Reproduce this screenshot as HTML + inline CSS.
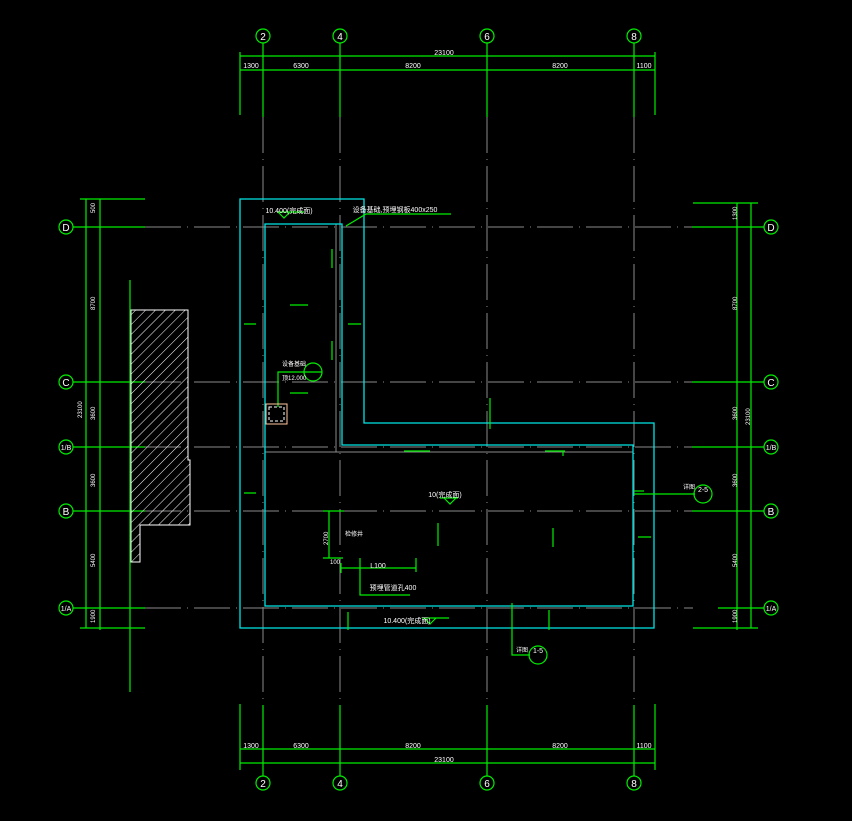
<!DOCTYPE html>
<html><head><meta charset="utf-8"><style>
html,body{margin:0;padding:0;background:#000;}
svg{display:block}
text{font-family:"Liberation Sans","Noto Sans CJK SC",sans-serif;fill:#fff;}
</style></head><body>
<svg width="852" height="821" viewBox="0 0 852 821" xmlns="http://www.w3.org/2000/svg">
<rect width="852" height="821" fill="#000"/>
<!-- grey axis lines -->
<g stroke="#8a8a8a" stroke-width="1" stroke-dasharray="36 6 1 6" fill="none">
<line x1="263" y1="117" x2="263" y2="705"/>
<line x1="340" y1="117" x2="340" y2="705"/>
<line x1="487" y1="117" x2="487" y2="705"/>
<line x1="634" y1="117" x2="634" y2="705"/>
<line x1="145" y1="227" x2="693" y2="227"/>
<line x1="145" y1="382" x2="693" y2="382"/>
<line x1="145" y1="447" x2="693" y2="447"/>
<line x1="145" y1="511" x2="693" y2="511"/>
<line x1="145" y1="608" x2="693" y2="608"/>
</g>
<g stroke="#8a8a8a" stroke-width="1">
<line x1="265" y1="452" x2="633" y2="452"/>
<line x1="336" y1="224" x2="336" y2="452"/>
</g>
<!-- cyan outlines -->
<g stroke="#00e5e5" stroke-width="1.3" fill="none">
<path d="M240 199 H364 V423 H654 V628 H240 Z"/>
<path d="M265 224 H342 V445 H633 V606 H265 Z"/>
</g>
<!-- green dimensions -->
<g stroke="#00ee00" stroke-width="1.2" fill="none">
<!-- top -->
<line x1="240" y1="56" x2="655" y2="56"/><line x1="240" y1="70" x2="655" y2="70"/>
<line x1="240" y1="52" x2="240" y2="115"/><line x1="655" y1="52" x2="655" y2="115"/>
<line x1="263" y1="43" x2="263" y2="117"/><line x1="340" y1="43" x2="340" y2="117"/>
<line x1="487" y1="43" x2="487" y2="117"/><line x1="634" y1="43" x2="634" y2="117"/>
<circle cx="263" cy="36" r="7"/><circle cx="340" cy="36" r="7"/><circle cx="487" cy="36" r="7"/><circle cx="634" cy="36" r="7"/>
<!-- bottom -->
<line x1="240" y1="749" x2="655" y2="749"/><line x1="240" y1="763" x2="655" y2="763"/>
<line x1="240" y1="704" x2="240" y2="770"/><line x1="655" y1="704" x2="655" y2="770"/>
<line x1="263" y1="705" x2="263" y2="776"/><line x1="340" y1="705" x2="340" y2="776"/>
<line x1="487" y1="705" x2="487" y2="776"/><line x1="634" y1="705" x2="634" y2="776"/>
<circle cx="263" cy="783" r="7"/><circle cx="340" cy="783" r="7"/><circle cx="487" cy="783" r="7"/><circle cx="634" cy="783" r="7"/>
<!-- left -->
<line x1="86" y1="199" x2="86" y2="628"/><line x1="100" y1="199" x2="100" y2="630"/>
<line x1="80" y1="199" x2="145" y2="199"/><line x1="80" y1="628" x2="145" y2="628"/>
<line x1="73" y1="227" x2="145" y2="227"/><line x1="73" y1="382" x2="145" y2="382"/>
<line x1="73" y1="447" x2="145" y2="447"/><line x1="73" y1="511" x2="145" y2="511"/>
<line x1="73" y1="608" x2="145" y2="608"/>
<circle cx="66" cy="227" r="7"/><circle cx="66" cy="382" r="7"/><circle cx="66" cy="447" r="7"/><circle cx="66" cy="511" r="7"/><circle cx="66" cy="608" r="7"/>
<line x1="130" y1="280" x2="130" y2="692"/>
<!-- right -->
<line x1="737" y1="203" x2="737" y2="630"/><line x1="751" y1="203" x2="751" y2="628"/>
<line x1="693" y1="203" x2="758" y2="203"/><line x1="693" y1="628" x2="758" y2="628"/>
<line x1="692" y1="227" x2="764" y2="227"/><line x1="692" y1="382" x2="764" y2="382"/>
<line x1="692" y1="447" x2="764" y2="447"/><line x1="692" y1="511" x2="764" y2="511"/>
<line x1="718" y1="608" x2="764" y2="608"/>
<circle cx="771" cy="227" r="7"/><circle cx="771" cy="382" r="7"/><circle cx="771" cy="447" r="7"/><circle cx="771" cy="511" r="7"/><circle cx="771" cy="608" r="7"/>
<!-- leaders -->
<path d="M346 226 L366 214 H451"/>
<path d="M278 407 V372 H322"/><circle cx="313" cy="372" r="9"/>
<path d="M634 494 H695"/><circle cx="703" cy="494" r="9"/><line x1="634" y1="491" x2="644" y2="491"/>
<path d="M512 603 V655 H530"/><circle cx="538" cy="655" r="9"/>
<path d="M329 511 V558 M323 511 H344 M323 558 H343"/>
<path d="M341 568 H416 M341 563 V573 M416 558 V572 M360 558 V595 H410"/>
<path d="M277 212 H304 M278 212 L284 218 L290 212"/>
<path d="M440 498 H458 M444 498 L450 504 L456 498"/>
<path d="M422 618 H449 M424 618 L430 624 L436 618"/>
<path d="M490 398 V429 M563 451 V456 M404 451 H430 M545 451 H565"/>
<path d="M244 324 H256 M348 324 H361 M244 493 H256 M638 537 H651 M290 305 H308 M290 393 H308"/>
<path d="M438 523 V546 M553 528 V547 M348 612 V630 M549 610 V630 M332 249 V268 M332 341 V360"/>
</g>
<rect x="266" y="404" width="21" height="20" fill="none" stroke="#ffc8a0" stroke-width="1"/>
<rect x="269" y="407" width="15" height="14" fill="none" stroke="#fff" stroke-width="1" stroke-dasharray="3 2"/>
<!-- hatched block -->
<defs><pattern id="h" width="7" height="7" patternUnits="userSpaceOnUse" patternTransform="rotate(45)"><line x1="0" y1="0" x2="0" y2="7" stroke="#fff" stroke-width="1"/></pattern></defs>
<path d="M131 310 H188 V460 H190 V525 H140 V562 H131 Z" fill="url(#h)" stroke="#fff" stroke-width="1"/>
<!-- circle labels -->
<g font-size="10" text-anchor="middle">
<text x="263" y="40">2</text><text x="340" y="40">4</text><text x="487" y="40">6</text><text x="634" y="40">8</text>
<text x="263" y="787">2</text><text x="340" y="787">4</text><text x="487" y="787">6</text><text x="634" y="787">8</text>
<text x="66" y="231">D</text><text x="66" y="386">C</text><text x="66" y="515">B</text>
<text x="771" y="231">D</text><text x="771" y="386">C</text><text x="771" y="515">B</text>
</g>
<g font-size="7" text-anchor="middle">
<text x="66" y="450">1/B</text><text x="66" y="611">1/A</text><text x="771" y="450">1/B</text><text x="771" y="611">1/A</text>
<text x="444" y="55">23100</text><text x="251" y="68">1300</text><text x="301" y="68">6300</text><text x="413" y="68">8200</text><text x="560" y="68">8200</text><text x="644" y="68">1100</text>
<text x="444" y="762">23100</text><text x="251" y="748">1300</text><text x="301" y="748">6300</text><text x="413" y="748">8200</text><text x="560" y="748">8200</text><text x="644" y="748">1100</text>
<text x="703" y="492">2-5</text><text x="538" y="653">1-5</text>
<text x="289" y="213">10.400(完成面)</text><text x="407" y="623">10.400(完成面)</text>
<text x="445" y="497">10(完成面)</text>
<text x="395" y="212">设备基础,预埋钢板400x250</text>
<text x="393" y="590">预埋管道孔400</text>
<text x="378" y="568">L100</text>
</g>
<g font-size="6" fill="#fff">
<text x="95" y="213" transform="rotate(-90 95 213)">500</text>
<text x="95" y="310" transform="rotate(-90 95 310)">8700</text>
<text x="95" y="420" transform="rotate(-90 95 420)">3600</text>
<text x="82" y="418" transform="rotate(-90 82 418)">23100</text>
<text x="95" y="487" transform="rotate(-90 95 487)">3600</text>
<text x="95" y="567" transform="rotate(-90 95 567)">5400</text>
<text x="95" y="623" transform="rotate(-90 95 623)">1900</text>
<text x="737" y="220" transform="rotate(-90 737 220)">1300</text>
<text x="737" y="310" transform="rotate(-90 737 310)">8700</text>
<text x="737" y="420" transform="rotate(-90 737 420)">3600</text>
<text x="750" y="425" transform="rotate(-90 750 425)">23100</text>
<text x="737" y="487" transform="rotate(-90 737 487)">3600</text>
<text x="737" y="567" transform="rotate(-90 737 567)">5400</text>
<text x="737" y="623" transform="rotate(-90 737 623)">1900</text>
<text x="328" y="545" transform="rotate(-90 328 545)">2700</text>
<text x="330" y="564">100</text>
<text x="683" y="489">详图</text><text x="516" y="652">详图</text>
<text x="282" y="366">设备基础</text><text x="282" y="380">顶12.000</text>
<text x="345" y="536">检修井</text>
</g>
</svg>
</body></html>
